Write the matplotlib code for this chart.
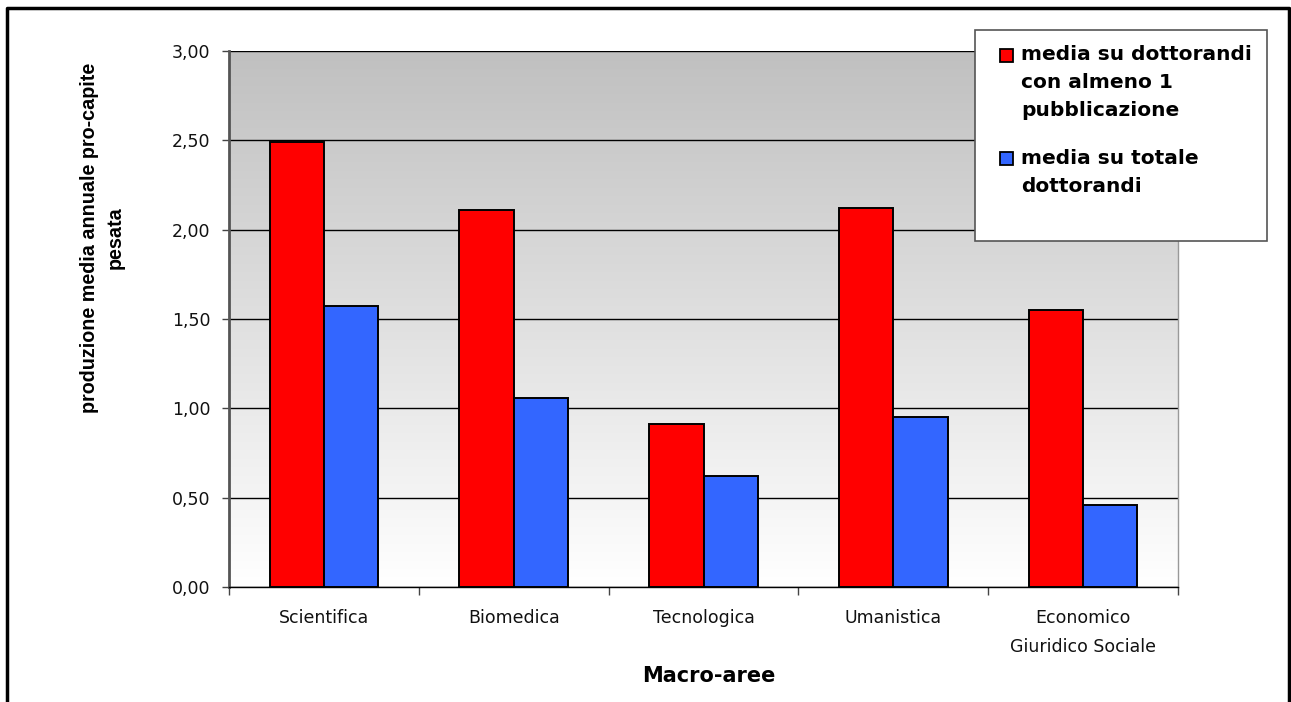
import numpy as np
import matplotlib.pyplot as plt
from matplotlib.colors import LinearSegmentedColormap
from matplotlib.patches import Rectangle
from matplotlib.ticker import FuncFormatter

plt.rcParams['font.family'] = ['DejaVu Sans']

# data
categories = ['Scientifica', 'Biomedica', 'Tecnologica', 'Umanistica',
              'Economico\nGiuridico Sociale']
media_almeno_1 = [2.49, 2.11, 0.91, 2.12, 1.55]
media_totale = [1.57, 1.06, 0.62, 0.95, 0.46]
series_labels = ['media su dottorandi\ncon almeno 1\npubblicazione',
                 'media su totale\ndottorandi']
series_colors = ['#ff0000', '#3366ff']

W, H = 1291, 702
fig = plt.figure(figsize=(W / 100, H / 100), dpi=100)


def fx(px):
    return px / W


def fy(py):
    return 1 - py / H


ax = fig.add_axes([fx(229), fy(587), fx(1178 - 229), (587 - 51) / H])

# outer frame (left, top, right; open at the bottom)
fig.add_artist(plt.Line2D([fx(7), fx(7), fx(1289), fx(1289)],
                          [0, fy(8), fy(8), 0],
                          transform=fig.transFigure, color='black', lw=2.5))

# gradient background: grey at top, white at bottom
cmap = LinearSegmentedColormap.from_list('bg', ['#ffffff', '#c0c0c0'])
grad = np.linspace(1, 0, 256).reshape(-1, 1)
ax.imshow(grad, extent=[0, 1, 0, 1], transform=ax.transAxes, aspect='auto',
          cmap=cmap, vmin=0, vmax=1, zorder=0, interpolation='bilinear')

x = np.arange(len(categories))
bw = 1 / 3.5
ax.bar(x - bw / 2, media_almeno_1, width=bw, color=series_colors[0],
       edgecolor='black', lw=1.4, zorder=3)
ax.bar(x + bw / 2, media_totale, width=bw, color=series_colors[1],
       edgecolor='black', lw=1.4, zorder=3)

ax.set_xlim(-0.5, len(categories) - 0.5)
ax.set_ylim(0, 3)
ax.set_yticks(np.arange(0, 3.01, 0.5))
ax.yaxis.set_major_formatter(FuncFormatter(lambda v, p: f'{v:.2f}'.replace('.', ',')))
ax.yaxis.grid(True, color='black', lw=1, zorder=1)
ax.set_axisbelow(True)

ax.set_xticks(x)
ax.set_xticklabels(categories, fontsize=12.5, linespacing=1.75, color='#111111')
ax.set_xticks(np.arange(-0.5, len(categories)), minor=True)
ax.tick_params(axis='x', which='major', length=0, pad=16)
ax.tick_params(axis='x', which='minor', length=6, width=1, color='#444444')
ax.tick_params(axis='y', length=5, width=1, labelsize=12.5, pad=8.5,
               color='#444444', labelcolor='#111111')

ax.spines['top'].set_visible(False)
ax.spines['left'].set_color('#555555')
ax.spines['left'].set_linewidth(2)
ax.spines['right'].set_color('#999999')
ax.spines['right'].set_linewidth(1)
ax.spines['bottom'].set_color('black')
ax.spines['bottom'].set_linewidth(1)

fig.text(fx(709), fy(676), 'Macro-aree', fontsize=15, fontweight='bold',
         ha='center', va='center')
fig.text(fx(102), fy(238), 'produzione media annuale pro-capite\npesata',
         fontsize=14.2, fontweight='bold', rotation=90, ha='center', va='center',
         linespacing=1.45, family=['Liberation Sans Narrow', 'Liberation Sans'])

# legend box drawn like the spreadsheet one
fig.add_artist(Rectangle((fx(975), fy(241)), fx(1267 - 975), (241 - 30) / H,
                         transform=fig.transFigure, facecolor='white',
                         edgecolor='#555555', lw=1.2, zorder=5))
line_h = 28
y0 = 55
for lab, col in zip(series_labels, series_colors):
    fig.add_artist(Rectangle((fx(1000), fy(y0 + 7)), fx(13), 13 / H,
                             transform=fig.transFigure, facecolor=col,
                             edgecolor='black', lw=1.3, zorder=6))
    for k, part in enumerate(lab.split('\n')):
        fig.text(fx(1021), fy(y0 + k * line_h), part, fontsize=14.5,
                 fontweight='bold', ha='left', va='center', zorder=7)
    y0 += len(lab.split('\n')) * line_h + 19

fig.savefig('out.png', dpi=100)
